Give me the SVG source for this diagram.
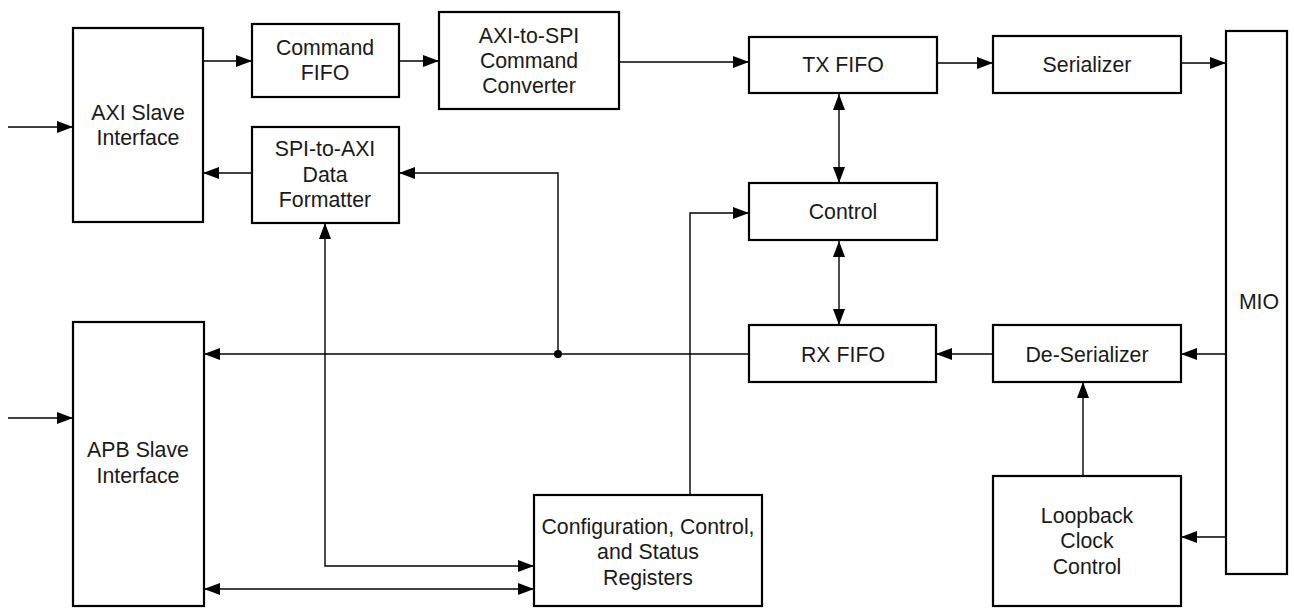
<svg xmlns="http://www.w3.org/2000/svg" width="1294" height="608" viewBox="0 0 1294 608">
<style>
.box{fill:#fff;stroke:#000;stroke-width:2.2}
.lbl{font-family:"Liberation Sans",Arial,sans-serif;font-size:21.3px;fill:#1a1a1a;text-anchor:middle}
.ln{fill:none;stroke:#000;stroke-width:1.4}
.ar{marker-end:url(#ah)}
.ba{marker-start:url(#as);marker-end:url(#ah)}
</style>
<defs>
<marker id="ah" markerUnits="userSpaceOnUse" markerWidth="17" markerHeight="14" refX="16" refY="6" orient="auto">
<path d="M0,0 L16,6 L0,12 Z" fill="#000"/>
</marker>
<marker id="as" markerUnits="userSpaceOnUse" markerWidth="17" markerHeight="14" refX="0" refY="6" orient="auto">
<path d="M16,0 L0,6 L16,12 Z" fill="#000"/>
</marker>
</defs>
<g id="connectors">
<line class="ln ar" x1="8" y1="127" x2="73" y2="127"/>
<line class="ln ar" x1="203" y1="61" x2="252" y2="61"/>
<line class="ln ar" x1="399" y1="61" x2="439" y2="61"/>
<line class="ln ar" x1="619" y1="62" x2="749" y2="62"/>
<line class="ln ar" x1="937" y1="63" x2="993" y2="63"/>
<line class="ln ar" x1="1181" y1="63" x2="1226" y2="63"/>
<line class="ln ba" x1="839" y1="94" x2="839" y2="183"/>
<line class="ln ba" x1="839" y1="241" x2="839" y2="325"/>
<path class="ln ar" d="M690,495 V213 H749"/>
<path class="ln ar" d="M749,354 H204"/>
<path class="ln ar" d="M558,354 V173 H399"/>
<circle cx="558" cy="354" r="4" fill="#000"/>
<line class="ln ar" x1="252" y1="173" x2="203" y2="173"/>
<line class="ln ar" x1="993" y1="354" x2="936" y2="354"/>
<line class="ln ar" x1="1226" y1="354" x2="1181" y2="354"/>
<line class="ln ar" x1="1226" y1="537" x2="1181" y2="537"/>
<line class="ln ar" x1="1083" y1="476" x2="1083" y2="382"/>
<line class="ln ar" x1="8" y1="418" x2="73" y2="418"/>
<path class="ln ba" d="M325,223 V566 H534"/>
<line class="ln ba" x1="204" y1="589" x2="534" y2="589"/>
</g>
<g id="axi-slave"><rect class="box" x="73" y="28" width="130" height="194"/>
<text class="lbl" x="138" y="120">AXI Slave</text><text class="lbl" x="138" y="145">Interface</text></g>
<g id="command-fifo"><rect class="box" x="252" y="24" width="147" height="73"/>
<text class="lbl" x="325" y="55">Command</text><text class="lbl" x="325" y="80">FIFO</text></g>
<g id="axi-to-spi"><rect class="box" x="439" y="12" width="180" height="97"/>
<text class="lbl" x="529" y="43">AXI-to-SPI</text><text class="lbl" x="529" y="68">Command</text><text class="lbl" x="529" y="93">Converter</text></g>
<g id="spi-to-axi"><rect class="box" x="252" y="127" width="147" height="96"/>
<text class="lbl" x="325" y="156">SPI-to-AXI</text><text class="lbl" x="325" y="182">Data</text><text class="lbl" x="325" y="207">Formatter</text></g>
<g id="tx-fifo"><rect class="box" x="749" y="37" width="188" height="56"/>
<text class="lbl" x="843" y="72">TX FIFO</text></g>
<g id="serializer"><rect class="box" x="993" y="36" width="188" height="57"/>
<text class="lbl" x="1087" y="72">Serializer</text></g>
<g id="control"><rect class="box" x="749" y="183" width="188" height="57"/>
<text class="lbl" x="843" y="219">Control</text></g>
<g id="rx-fifo"><rect class="box" x="749" y="325" width="187" height="57"/>
<text class="lbl" x="843" y="362">RX FIFO</text></g>
<g id="de-serializer"><rect class="box" x="993" y="325" width="188" height="57"/>
<text class="lbl" x="1087" y="362">De-Serializer</text></g>
<g id="mio"><rect class="box" x="1226" y="31" width="61" height="543"/>
<text class="lbl" x="1259" y="309">MIO</text></g>
<g id="loopback"><rect class="box" x="993" y="476" width="188" height="130"/>
<text class="lbl" x="1087" y="523">Loopback</text><text class="lbl" x="1087" y="548">Clock</text><text class="lbl" x="1087" y="574">Control</text></g>
<g id="apb-slave"><rect class="box" x="73" y="322" width="131" height="284"/>
<text class="lbl" x="138" y="457">APB Slave</text><text class="lbl" x="138" y="483">Interface</text></g>
<g id="config"><rect class="box" x="534" y="495" width="228" height="111"/>
<text class="lbl" x="648" y="534">Configuration, Control,</text><text class="lbl" x="648" y="559">and Status</text><text class="lbl" x="648" y="585">Registers</text></g>
</svg>
